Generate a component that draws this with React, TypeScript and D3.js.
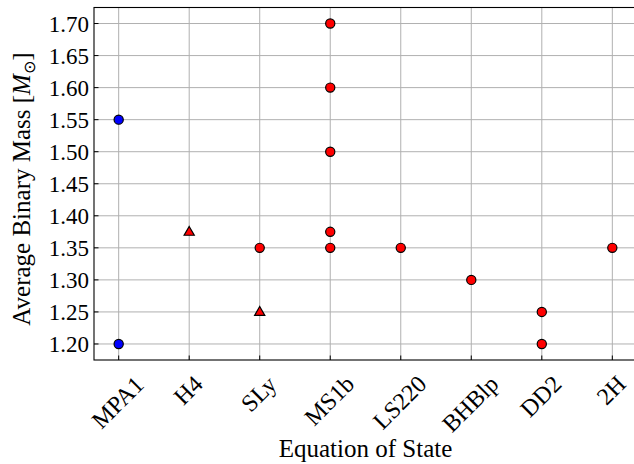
import React from "react";
import * as d3 from "d3";

const eosNames = ["MPA1", "H4", "SLy", "MS1b", "LS220", "BHBlp", "DD2", "2H"];

// blue circles
const blueEos = ["MPA1", "MPA1"];
const blueMass = [1.55, 1.2];

// red circles
const redEos = ["SLy", "MS1b", "MS1b", "MS1b", "MS1b", "MS1b", "LS220", "BHBlp", "DD2", "DD2", "2H"];
const redMass = [1.35, 1.7, 1.6, 1.5, 1.375, 1.35, 1.35, 1.3, 1.25, 1.2, 1.35];

// red triangles
const triEos = ["H4", "SLy"];
const triMass = [1.375, 1.25];

const massTicks = [1.2, 1.25, 1.3, 1.35, 1.4, 1.45, 1.5, 1.55, 1.6, 1.65, 1.7];

const FONT = "Liberation Serif";

// rough Times glyph widths (em) for label centring
const glyphW: Record<string, number> = {
  M: 0.889, P: 0.556, A: 0.722, H: 0.722, S: 0.556, L: 0.611, B: 0.667, D: 0.722,
  y: 0.5, s: 0.389, b: 0.5, l: 0.278, p: 0.5,
};
const textW = (s: string, size: number) =>
  s.split("").reduce((a, c) => a + (glyphW[c] ?? 0.5), 0) * size;

const width = 634;
const height = 464;
const left = 94;
const right = 637;
const top = 7.5;
const bottom = 360;

const x = d3.scalePoint<string>().domain(eosNames).range([left, right]).padding(0.35);
const y = d3.scaleLinear().domain([1.175, 1.725]).range([bottom, top]);
const tri = d3.symbol().type(d3.symbolTriangle).size(45)()!;
const fmt = d3.format(".2f");

const App = () => {
  const xs = 24;
  return (
    <svg width={width} height={height} style={{ position: "absolute", left: 0, top: 0 }}>
      <rect x={0} y={0} width={width} height={height} fill="white" />

      {/* grid */}
      <g stroke="#b0b0b0" strokeWidth={1}>
        {eosNames.map((d) => (
          <line key={d} x1={x(d)} x2={x(d)} y1={top} y2={bottom} />
        ))}
        {massTicks.map((d) => (
          <line key={d} x1={left} x2={right} y1={y(d)} y2={y(d)} />
        ))}
      </g>

      {/* inward ticks */}
      <g stroke="black" strokeWidth={1}>
        {eosNames.map((d) => (
          <line key={d} x1={x(d)} x2={x(d)} y1={bottom} y2={bottom - 4.5} />
        ))}
        {massTicks.map((d) => (
          <line key={d} x1={left} x2={left + 4.5} y1={y(d)} y2={y(d)} />
        ))}
      </g>

      <rect x={left} y={top} width={right - left} height={bottom - top} fill="none" stroke="black" strokeWidth={1.1} />

      {/* y tick labels */}
      {massTicks.map((d) => (
        <text key={d} x={left - 5} y={y(d) + 8} textAnchor="end" fontFamily={FONT} fontSize={23}>
          {fmt(d)}
        </text>
      ))}

      {/* x tick labels */}
      {eosNames.map((d) => {
        const half = ((textW(d, xs) + 0.8 * xs) * Math.SQRT1_2) / 2;
        return (
          <text key={d} transform={`translate(${x(d)! - 1},${373 + half}) rotate(-45)`}
            textAnchor="middle" dy={8} fontFamily={FONT} fontSize={xs}>
            {d}
          </text>
        );
      })}

      {/* axis titles */}
      <text x={(left + right) / 2} y={457} textAnchor="middle" fontFamily={FONT} fontSize={25}>
        Equation of State
      </text>
      <text transform="translate(30,189) rotate(-90)" textAnchor="middle" fontFamily={FONT} fontSize={25}>
        Average Binary Mass [<tspan fontStyle="italic">M</tspan>
        <tspan dy={5} fontSize={16} fontFamily="DejaVu Sans">⊙</tspan>
        <tspan dy={-5}>]</tspan>
      </text>

      {/* markers */}
      <g stroke="black" strokeWidth={1.2}>
        {blueMass.map((m, i) => (
          <circle key={"b" + i} cx={x(blueEos[i])} cy={y(m)} r={4.6} fill="#0000ff" />
        ))}
        {redMass.map((m, i) => (
          <circle key={"r" + i} cx={x(redEos[i])} cy={y(m)} r={4.6} fill="#ff0000" />
        ))}
        {triMass.map((m, i) => (
          <path key={"t" + i} d={tri} transform={`translate(${x(triEos[i])},${y(m) + 0.5})`} fill="#ff0000" />
        ))}
      </g>
    </svg>
  );
};

export default App;
